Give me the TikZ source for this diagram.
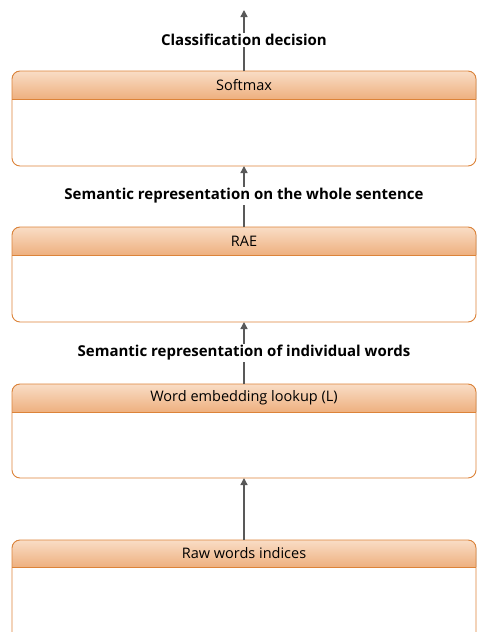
\documentclass[tikz,border=0pt]{standalone}
\usepackage{fontspec}
\setmainfont{Open Sans}[Ligatures={NoCommon}]
\usetikzlibrary{arrows.meta}
\definecolor{hdrtop}{HTML}{F9DDC6}
\definecolor{hdrbot}{HTML}{EEB07F}
\definecolor{edge}{HTML}{DC8339}
\definecolor{flow}{HTML}{595959}
\tikzset{
  layer/.style={rectangle, minimum width=464pt, inner sep=0pt, outer sep=0pt},
  layeredge/.style={draw=edge, line width=0.9pt, rounded corners=8pt},
  hdrtext/.style={font=\fontsize{14.5}{16}\selectfont, text=black},
  flowlabel/.style={font=\bfseries\fontsize{15}{17}\selectfont, fill=white, inner sep=1.5pt},
  flowarrow/.style={draw=flow, line width=1.4pt, -{Triangle[width=7pt,length=7pt]}}
}
% one layer box: #1 name, #2 top, #3 header bottom, #4 bottom, #5 title
\newcommand{\layerbox}[5]{%
  \node[layer, minimum height={#4-#2}] (#1) at (244,{(#2+#4)/2}) {};
  \coordinate (#1h) at (244,#3);
  \fill[top color=hdrtop, bottom color=hdrbot]
    (#1.west |- #1h) [rounded corners=8pt] -- (#1.north west) -- (#1.north east)
    [sharp corners] -- (#1.east |- #1h) -- cycle;
  \draw[layeredge] (#1.north west) rectangle (#1.south east);
  \draw[draw=edge, line width=0.9pt] (#1.west |- #1h) -- (#1.east |- #1h);
  \node[hdrtext] (#1t) at (244,{(#2+#3)/2}) {#5};
}
\begin{document}
\begin{tikzpicture}[x=1pt,y=-1pt]
\useasboundingbox (0,0) rectangle (477,632);

\layerbox{sm}{71}{99}{166}{Softmax}
\layerbox{rae}{227}{255}{322}{RAE}
\layerbox{emb}{384}{412}{478}{Word embedding lookup (L)}
\layerbox{raw}{540}{567}{640}{Raw words indices}

\coordinate (out) at (244,10);
\draw[flowarrow] (sm.north) -- (out);
\draw[flowarrow] (rae.north) -- (sm.south);
\draw[flowarrow] (emb.north) -- (rae.south);
\draw[flowarrow] (raw.north) -- (emb.south);

\node[flowlabel] (l1) at (244,40) {Classification decision};
\node[flowlabel] (l2) at (244,196) {Semantic representation on the whole sentence};
\node[flowlabel] (l3) at (244,353) {Semantic representation of individual words};
\end{tikzpicture}
\end{document}
